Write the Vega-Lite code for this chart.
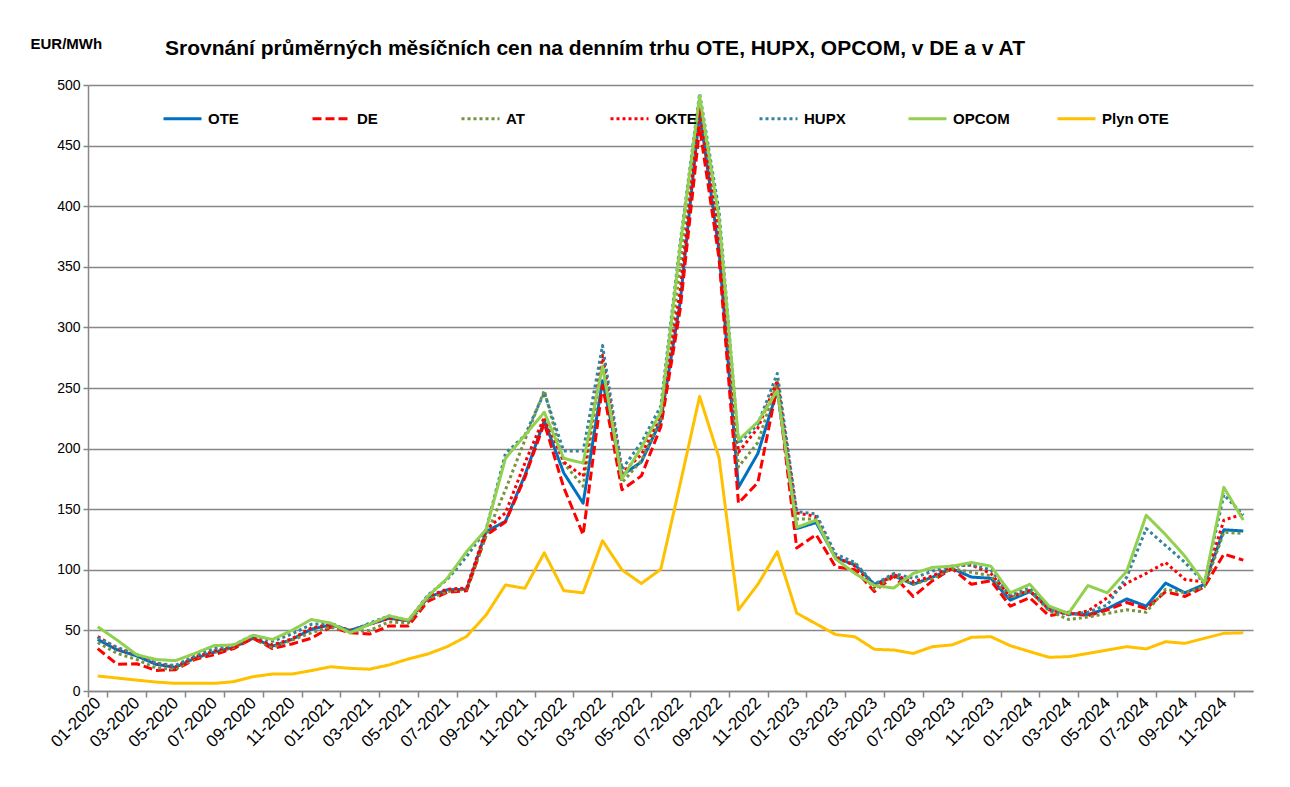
{
"$schema": "https://vega.github.io/schema/vega-lite/v6.json",
"width": 1165,
"height": 606,
"autosize": {"type": "none"},
"padding": {"left": 88, "top": 85, "right": 37, "bottom": 96},
"background": "white",
"config": {"font": "Liberation Sans", "view": {"stroke": null}},
"title": {"text": "Srovnání průměrných měsíčních cen na denním trhu OTE, HUPX, OPCOM, v DE a v AT", "anchor": "start", "frame": "group", "dx": 77, "dy": 45, "offset": 22, "fontSize": 21, "fontWeight": "bold", "color": "black"},
"data": {"values": [
{"m":"01-2020","s":"OTE","v":42.5},{"m":"02-2020","s":"OTE","v":34},{"m":"03-2020","s":"OTE","v":29},{"m":"04-2020","s":"OTE","v":22},{"m":"05-2020","s":"OTE","v":19.5},{"m":"06-2020","s":"OTE","v":27},{"m":"07-2020","s":"OTE","v":32},{"m":"08-2020","s":"OTE","v":36},{"m":"09-2020","s":"OTE","v":43.5},{"m":"10-2020","s":"OTE","v":37},{"m":"11-2020","s":"OTE","v":42.5},{"m":"12-2020","s":"OTE","v":51},
{"m":"01-2021","s":"OTE","v":54.5},{"m":"02-2021","s":"OTE","v":50},{"m":"03-2021","s":"OTE","v":55},{"m":"04-2021","s":"OTE","v":60},{"m":"05-2021","s":"OTE","v":58},{"m":"06-2021","s":"OTE","v":77},{"m":"07-2021","s":"OTE","v":83.5},{"m":"08-2021","s":"OTE","v":84},{"m":"09-2021","s":"OTE","v":131.5},{"m":"10-2021","s":"OTE","v":140},{"m":"11-2021","s":"OTE","v":178},{"m":"12-2021","s":"OTE","v":223},
{"m":"01-2022","s":"OTE","v":180},{"m":"02-2022","s":"OTE","v":155},{"m":"03-2022","s":"OTE","v":256},{"m":"04-2022","s":"OTE","v":178},{"m":"05-2022","s":"OTE","v":189},{"m":"06-2022","s":"OTE","v":223},{"m":"07-2022","s":"OTE","v":321},{"m":"08-2022","s":"OTE","v":478},{"m":"09-2022","s":"OTE","v":363},{"m":"10-2022","s":"OTE","v":168},{"m":"11-2022","s":"OTE","v":196},{"m":"12-2022","s":"OTE","v":248},
{"m":"01-2023","s":"OTE","v":134},{"m":"02-2023","s":"OTE","v":139},{"m":"03-2023","s":"OTE","v":110},{"m":"04-2023","s":"OTE","v":104},{"m":"05-2023","s":"OTE","v":88},{"m":"06-2023","s":"OTE","v":95},{"m":"07-2023","s":"OTE","v":88},{"m":"08-2023","s":"OTE","v":94},{"m":"09-2023","s":"OTE","v":101},{"m":"10-2023","s":"OTE","v":94},{"m":"11-2023","s":"OTE","v":93},{"m":"12-2023","s":"OTE","v":75},
{"m":"01-2024","s":"OTE","v":82},{"m":"02-2024","s":"OTE","v":69},{"m":"03-2024","s":"OTE","v":64},{"m":"04-2024","s":"OTE","v":63},{"m":"05-2024","s":"OTE","v":68},{"m":"06-2024","s":"OTE","v":76},{"m":"07-2024","s":"OTE","v":70},{"m":"08-2024","s":"OTE","v":89},{"m":"09-2024","s":"OTE","v":81},{"m":"10-2024","s":"OTE","v":88},{"m":"11-2024","s":"OTE","v":133},{"m":"12-2024","s":"OTE","v":132},

{"m":"01-2020","s":"DE","v":35},{"m":"02-2020","s":"DE","v":22},{"m":"03-2020","s":"DE","v":22.5},{"m":"04-2020","s":"DE","v":17},{"m":"05-2020","s":"DE","v":17.5},{"m":"06-2020","s":"DE","v":26},{"m":"07-2020","s":"DE","v":30},{"m":"08-2020","s":"DE","v":35},{"m":"09-2020","s":"DE","v":43.5},{"m":"10-2020","s":"DE","v":35},{"m":"11-2020","s":"DE","v":38.8},{"m":"12-2020","s":"DE","v":43.5},
{"m":"01-2021","s":"DE","v":52.8},{"m":"02-2021","s":"DE","v":48},{"m":"03-2021","s":"DE","v":47},{"m":"04-2021","s":"DE","v":53.7},{"m":"05-2021","s":"DE","v":53.7},{"m":"06-2021","s":"DE","v":74},{"m":"07-2021","s":"DE","v":81.4},{"m":"08-2021","s":"DE","v":82.7},{"m":"09-2021","s":"DE","v":128.4},{"m":"10-2021","s":"DE","v":139.5},{"m":"11-2021","s":"DE","v":176},{"m":"12-2021","s":"DE","v":221},
{"m":"01-2022","s":"DE","v":168},{"m":"02-2022","s":"DE","v":129},{"m":"03-2022","s":"DE","v":252},{"m":"04-2022","s":"DE","v":166},{"m":"05-2022","s":"DE","v":177.5},{"m":"06-2022","s":"DE","v":218},{"m":"07-2022","s":"DE","v":315},{"m":"08-2022","s":"DE","v":465},{"m":"09-2022","s":"DE","v":357},{"m":"10-2022","s":"DE","v":155},{"m":"11-2022","s":"DE","v":172},{"m":"12-2022","s":"DE","v":252},
{"m":"01-2023","s":"DE","v":118},{"m":"02-2023","s":"DE","v":129},{"m":"03-2023","s":"DE","v":102.5},{"m":"04-2023","s":"DE","v":100},{"m":"05-2023","s":"DE","v":82},{"m":"06-2023","s":"DE","v":95},{"m":"07-2023","s":"DE","v":78},{"m":"08-2023","s":"DE","v":91},{"m":"09-2023","s":"DE","v":101},{"m":"10-2023","s":"DE","v":88},{"m":"11-2023","s":"DE","v":91},{"m":"12-2023","s":"DE","v":70},
{"m":"01-2024","s":"DE","v":77},{"m":"02-2024","s":"DE","v":62},{"m":"03-2024","s":"DE","v":65},{"m":"04-2024","s":"DE","v":62},{"m":"05-2024","s":"DE","v":67},{"m":"06-2024","s":"DE","v":73},{"m":"07-2024","s":"DE","v":68},{"m":"08-2024","s":"DE","v":82},{"m":"09-2024","s":"DE","v":78},{"m":"10-2024","s":"DE","v":86},{"m":"11-2024","s":"DE","v":113},{"m":"12-2024","s":"DE","v":108},

{"m":"01-2020","s":"AT","v":40},{"m":"02-2020","s":"AT","v":31},{"m":"03-2020","s":"AT","v":26},{"m":"04-2020","s":"AT","v":19},{"m":"05-2020","s":"AT","v":18},{"m":"06-2020","s":"AT","v":27},{"m":"07-2020","s":"AT","v":32},{"m":"08-2020","s":"AT","v":36},{"m":"09-2020","s":"AT","v":44},{"m":"10-2020","s":"AT","v":36},{"m":"11-2020","s":"AT","v":42},{"m":"12-2020","s":"AT","v":48},
{"m":"01-2021","s":"AT","v":53},{"m":"02-2021","s":"AT","v":49},{"m":"03-2021","s":"AT","v":50},{"m":"04-2021","s":"AT","v":57},{"m":"05-2021","s":"AT","v":56},{"m":"06-2021","s":"AT","v":76},{"m":"07-2021","s":"AT","v":82},{"m":"08-2021","s":"AT","v":84},{"m":"09-2021","s":"AT","v":128},{"m":"10-2021","s":"AT","v":166},{"m":"11-2021","s":"AT","v":207},{"m":"12-2021","s":"AT","v":248},
{"m":"01-2022","s":"AT","v":188},{"m":"02-2022","s":"AT","v":169},{"m":"03-2022","s":"AT","v":272},{"m":"04-2022","s":"AT","v":172},{"m":"05-2022","s":"AT","v":190},{"m":"06-2022","s":"AT","v":225},{"m":"07-2022","s":"AT","v":350},{"m":"08-2022","s":"AT","v":485},{"m":"09-2022","s":"AT","v":385},{"m":"10-2022","s":"AT","v":185},{"m":"11-2022","s":"AT","v":205},{"m":"12-2022","s":"AT","v":255},
{"m":"01-2023","s":"AT","v":142},{"m":"02-2023","s":"AT","v":142},{"m":"03-2023","s":"AT","v":109},{"m":"04-2023","s":"AT","v":105},{"m":"05-2023","s":"AT","v":84},{"m":"06-2023","s":"AT","v":96},{"m":"07-2023","s":"AT","v":88},{"m":"08-2023","s":"AT","v":93},{"m":"09-2023","s":"AT","v":101},{"m":"10-2023","s":"AT","v":98},{"m":"11-2023","s":"AT","v":95},{"m":"12-2023","s":"AT","v":77},
{"m":"01-2024","s":"AT","v":83},{"m":"02-2024","s":"AT","v":66},{"m":"03-2024","s":"AT","v":59},{"m":"04-2024","s":"AT","v":61},{"m":"05-2024","s":"AT","v":64},{"m":"06-2024","s":"AT","v":67},{"m":"07-2024","s":"AT","v":65},{"m":"08-2024","s":"AT","v":84},{"m":"09-2024","s":"AT","v":81},{"m":"10-2024","s":"AT","v":86},{"m":"11-2024","s":"AT","v":131},{"m":"12-2024","s":"AT","v":130},

{"m":"01-2020","s":"OKTE","v":45},{"m":"02-2020","s":"OKTE","v":35},{"m":"03-2020","s":"OKTE","v":30},{"m":"04-2020","s":"OKTE","v":23},{"m":"05-2020","s":"OKTE","v":20},{"m":"06-2020","s":"OKTE","v":28},{"m":"07-2020","s":"OKTE","v":33},{"m":"08-2020","s":"OKTE","v":37},{"m":"09-2020","s":"OKTE","v":44},{"m":"10-2020","s":"OKTE","v":38},{"m":"11-2020","s":"OKTE","v":43},{"m":"12-2020","s":"OKTE","v":52},
{"m":"01-2021","s":"OKTE","v":55},{"m":"02-2021","s":"OKTE","v":50},{"m":"03-2021","s":"OKTE","v":55},{"m":"04-2021","s":"OKTE","v":60},{"m":"05-2021","s":"OKTE","v":58},{"m":"06-2021","s":"OKTE","v":78},{"m":"07-2021","s":"OKTE","v":84},{"m":"08-2021","s":"OKTE","v":85},{"m":"09-2021","s":"OKTE","v":133},{"m":"10-2021","s":"OKTE","v":147},{"m":"11-2021","s":"OKTE","v":188},{"m":"12-2021","s":"OKTE","v":226},
{"m":"01-2022","s":"OKTE","v":189},{"m":"02-2022","s":"OKTE","v":177},{"m":"03-2022","s":"OKTE","v":277},{"m":"04-2022","s":"OKTE","v":180},{"m":"05-2022","s":"OKTE","v":195},{"m":"06-2022","s":"OKTE","v":228},{"m":"07-2022","s":"OKTE","v":330},{"m":"08-2022","s":"OKTE","v":480},{"m":"09-2022","s":"OKTE","v":375},{"m":"10-2022","s":"OKTE","v":197},{"m":"11-2022","s":"OKTE","v":217},{"m":"12-2022","s":"OKTE","v":256},
{"m":"01-2023","s":"OKTE","v":147},{"m":"02-2023","s":"OKTE","v":144},{"m":"03-2023","s":"OKTE","v":111},{"m":"04-2023","s":"OKTE","v":103},{"m":"05-2023","s":"OKTE","v":86},{"m":"06-2023","s":"OKTE","v":96},{"m":"07-2023","s":"OKTE","v":90},{"m":"08-2023","s":"OKTE","v":95},{"m":"09-2023","s":"OKTE","v":103},{"m":"10-2023","s":"OKTE","v":104},{"m":"11-2023","s":"OKTE","v":97},{"m":"12-2023","s":"OKTE","v":78},
{"m":"01-2024","s":"OKTE","v":83},{"m":"02-2024","s":"OKTE","v":67},{"m":"03-2024","s":"OKTE","v":63},{"m":"04-2024","s":"OKTE","v":66},{"m":"05-2024","s":"OKTE","v":77},{"m":"06-2024","s":"OKTE","v":89},{"m":"07-2024","s":"OKTE","v":97},{"m":"08-2024","s":"OKTE","v":106},{"m":"09-2024","s":"OKTE","v":92},{"m":"10-2024","s":"OKTE","v":90},{"m":"11-2024","s":"OKTE","v":141},{"m":"12-2024","s":"OKTE","v":146},

{"m":"01-2020","s":"HUPX","v":44},{"m":"02-2020","s":"HUPX","v":36},{"m":"03-2020","s":"HUPX","v":30},{"m":"04-2020","s":"HUPX","v":23},{"m":"05-2020","s":"HUPX","v":21},{"m":"06-2020","s":"HUPX","v":29},{"m":"07-2020","s":"HUPX","v":35},{"m":"08-2020","s":"HUPX","v":38},{"m":"09-2020","s":"HUPX","v":46},{"m":"10-2020","s":"HUPX","v":41},{"m":"11-2020","s":"HUPX","v":47},{"m":"12-2020","s":"HUPX","v":55},
{"m":"01-2021","s":"HUPX","v":56},{"m":"02-2021","s":"HUPX","v":49},{"m":"03-2021","s":"HUPX","v":56},{"m":"04-2021","s":"HUPX","v":62},{"m":"05-2021","s":"HUPX","v":58},{"m":"06-2021","s":"HUPX","v":79},{"m":"07-2021","s":"HUPX","v":92},{"m":"08-2021","s":"HUPX","v":111},{"m":"09-2021","s":"HUPX","v":133},{"m":"10-2021","s":"HUPX","v":196},{"m":"11-2021","s":"HUPX","v":211},{"m":"12-2021","s":"HUPX","v":246},
{"m":"01-2022","s":"HUPX","v":198},{"m":"02-2022","s":"HUPX","v":198},{"m":"03-2022","s":"HUPX","v":285},{"m":"04-2022","s":"HUPX","v":183},{"m":"05-2022","s":"HUPX","v":205},{"m":"06-2022","s":"HUPX","v":235},{"m":"07-2022","s":"HUPX","v":370},{"m":"08-2022","s":"HUPX","v":493},{"m":"09-2022","s":"HUPX","v":396},{"m":"10-2022","s":"HUPX","v":204},{"m":"11-2022","s":"HUPX","v":220},{"m":"12-2022","s":"HUPX","v":262},
{"m":"01-2023","s":"HUPX","v":148},{"m":"02-2023","s":"HUPX","v":146},{"m":"03-2023","s":"HUPX","v":113},{"m":"04-2023","s":"HUPX","v":106},{"m":"05-2023","s":"HUPX","v":88},{"m":"06-2023","s":"HUPX","v":97},{"m":"07-2023","s":"HUPX","v":93},{"m":"08-2023","s":"HUPX","v":99},{"m":"09-2023","s":"HUPX","v":103},{"m":"10-2023","s":"HUPX","v":104},{"m":"11-2023","s":"HUPX","v":100},{"m":"12-2023","s":"HUPX","v":79},
{"m":"01-2024","s":"HUPX","v":85},{"m":"02-2024","s":"HUPX","v":67},{"m":"03-2024","s":"HUPX","v":63},{"m":"04-2024","s":"HUPX","v":65},{"m":"05-2024","s":"HUPX","v":71},{"m":"06-2024","s":"HUPX","v":94},{"m":"07-2024","s":"HUPX","v":134},{"m":"08-2024","s":"HUPX","v":120},{"m":"09-2024","s":"HUPX","v":106},{"m":"10-2024","s":"HUPX","v":89},{"m":"11-2024","s":"HUPX","v":162},{"m":"12-2024","s":"HUPX","v":145},

{"m":"01-2020","s":"OPCOM","v":53},{"m":"02-2020","s":"OPCOM","v":42},{"m":"03-2020","s":"OPCOM","v":30},{"m":"04-2020","s":"OPCOM","v":26},{"m":"05-2020","s":"OPCOM","v":25},{"m":"06-2020","s":"OPCOM","v":31},{"m":"07-2020","s":"OPCOM","v":37.5},{"m":"08-2020","s":"OPCOM","v":38},{"m":"09-2020","s":"OPCOM","v":46},{"m":"10-2020","s":"OPCOM","v":42.5},{"m":"11-2020","s":"OPCOM","v":50},{"m":"12-2020","s":"OPCOM","v":59},
{"m":"01-2021","s":"OPCOM","v":56},{"m":"02-2021","s":"OPCOM","v":48},{"m":"03-2021","s":"OPCOM","v":55},{"m":"04-2021","s":"OPCOM","v":62},{"m":"05-2021","s":"OPCOM","v":58.5},{"m":"06-2021","s":"OPCOM","v":78},{"m":"07-2021","s":"OPCOM","v":93},{"m":"08-2021","s":"OPCOM","v":115},{"m":"09-2021","s":"OPCOM","v":133},{"m":"10-2021","s":"OPCOM","v":192},{"m":"11-2021","s":"OPCOM","v":211},{"m":"12-2021","s":"OPCOM","v":230},
{"m":"01-2022","s":"OPCOM","v":192},{"m":"02-2022","s":"OPCOM","v":188},{"m":"03-2022","s":"OPCOM","v":268},{"m":"04-2022","s":"OPCOM","v":175},{"m":"05-2022","s":"OPCOM","v":201},{"m":"06-2022","s":"OPCOM","v":230},{"m":"07-2022","s":"OPCOM","v":367},{"m":"08-2022","s":"OPCOM","v":491},{"m":"09-2022","s":"OPCOM","v":390},{"m":"10-2022","s":"OPCOM","v":207},{"m":"11-2022","s":"OPCOM","v":222},{"m":"12-2022","s":"OPCOM","v":248},
{"m":"01-2023","s":"OPCOM","v":135},{"m":"02-2023","s":"OPCOM","v":141},{"m":"03-2023","s":"OPCOM","v":109},{"m":"04-2023","s":"OPCOM","v":97},{"m":"05-2023","s":"OPCOM","v":87},{"m":"06-2023","s":"OPCOM","v":85},{"m":"07-2023","s":"OPCOM","v":97},{"m":"08-2023","s":"OPCOM","v":102},{"m":"09-2023","s":"OPCOM","v":103},{"m":"10-2023","s":"OPCOM","v":106},{"m":"11-2023","s":"OPCOM","v":103},{"m":"12-2023","s":"OPCOM","v":81},
{"m":"01-2024","s":"OPCOM","v":88},{"m":"02-2024","s":"OPCOM","v":70},{"m":"03-2024","s":"OPCOM","v":64},{"m":"04-2024","s":"OPCOM","v":87},{"m":"05-2024","s":"OPCOM","v":81},{"m":"06-2024","s":"OPCOM","v":99},{"m":"07-2024","s":"OPCOM","v":145},{"m":"08-2024","s":"OPCOM","v":129},{"m":"09-2024","s":"OPCOM","v":111},{"m":"10-2024","s":"OPCOM","v":89},{"m":"11-2024","s":"OPCOM","v":168},{"m":"12-2024","s":"OPCOM","v":141},

{"m":"01-2020","s":"Plyn OTE","v":12.4},{"m":"02-2020","s":"Plyn OTE","v":10.7},{"m":"03-2020","s":"Plyn OTE","v":9},{"m":"04-2020","s":"Plyn OTE","v":7.4},{"m":"05-2020","s":"Plyn OTE","v":6.3},{"m":"06-2020","s":"Plyn OTE","v":6.3},{"m":"07-2020","s":"Plyn OTE","v":6.3},{"m":"08-2020","s":"Plyn OTE","v":7.7},{"m":"09-2020","s":"Plyn OTE","v":11.8},{"m":"10-2020","s":"Plyn OTE","v":14},{"m":"11-2020","s":"Plyn OTE","v":14},{"m":"12-2020","s":"Plyn OTE","v":16.8},
{"m":"01-2021","s":"Plyn OTE","v":20},{"m":"02-2021","s":"Plyn OTE","v":18.7},{"m":"03-2021","s":"Plyn OTE","v":18},{"m":"04-2021","s":"Plyn OTE","v":21.5},{"m":"05-2021","s":"Plyn OTE","v":26.4},{"m":"06-2021","s":"Plyn OTE","v":30.5},{"m":"07-2021","s":"Plyn OTE","v":36.6},{"m":"08-2021","s":"Plyn OTE","v":45},{"m":"09-2021","s":"Plyn OTE","v":62.7},{"m":"10-2021","s":"Plyn OTE","v":87.5},{"m":"11-2021","s":"Plyn OTE","v":84.7},{"m":"12-2021","s":"Plyn OTE","v":114},
{"m":"01-2022","s":"Plyn OTE","v":82.8},{"m":"02-2022","s":"Plyn OTE","v":81},{"m":"03-2022","s":"Plyn OTE","v":124},{"m":"04-2022","s":"Plyn OTE","v":100},{"m":"05-2022","s":"Plyn OTE","v":88.7},{"m":"06-2022","s":"Plyn OTE","v":100.5},{"m":"07-2022","s":"Plyn OTE","v":171},{"m":"08-2022","s":"Plyn OTE","v":243},{"m":"09-2022","s":"Plyn OTE","v":192.4},{"m":"10-2022","s":"Plyn OTE","v":66.9},{"m":"11-2022","s":"Plyn OTE","v":88},{"m":"12-2022","s":"Plyn OTE","v":115},
{"m":"01-2023","s":"Plyn OTE","v":64.3},{"m":"02-2023","s":"Plyn OTE","v":55.4},{"m":"03-2023","s":"Plyn OTE","v":46.6},{"m":"04-2023","s":"Plyn OTE","v":44.7},{"m":"05-2023","s":"Plyn OTE","v":34.4},{"m":"06-2023","s":"Plyn OTE","v":33.8},{"m":"07-2023","s":"Plyn OTE","v":31},{"m":"08-2023","s":"Plyn OTE","v":36.6},{"m":"09-2023","s":"Plyn OTE","v":38},{"m":"10-2023","s":"Plyn OTE","v":44.3},{"m":"11-2023","s":"Plyn OTE","v":44.8},{"m":"12-2023","s":"Plyn OTE","v":37.4},
{"m":"01-2024","s":"Plyn OTE","v":32.5},{"m":"02-2024","s":"Plyn OTE","v":27.8},{"m":"03-2024","s":"Plyn OTE","v":28.3},{"m":"04-2024","s":"Plyn OTE","v":31},{"m":"05-2024","s":"Plyn OTE","v":33.8},{"m":"06-2024","s":"Plyn OTE","v":36.6},{"m":"07-2024","s":"Plyn OTE","v":34.7},{"m":"08-2024","s":"Plyn OTE","v":40.7},{"m":"09-2024","s":"Plyn OTE","v":39.3},{"m":"10-2024","s":"Plyn OTE","v":43.5},{"m":"11-2024","s":"Plyn OTE","v":47.6},{"m":"12-2024","s":"Plyn OTE","v":48}
]},
"mark": {"type": "line", "strokeWidth": 3, "strokeJoin": "round"},
"encoding": {
  "x": {"field": "m", "type": "ordinal", "sort": null,
    "scale": {"type": "band", "paddingInner": 0, "paddingOuter": 0},
    "axis": {"title": null, "values": ["01-2020","03-2020","05-2020","07-2020","09-2020","11-2020","01-2021","03-2021","05-2021","07-2021","09-2021","11-2021","01-2022","03-2022","05-2022","07-2022","09-2022","11-2022","01-2023","03-2023","05-2023","07-2023","09-2023","11-2023","01-2024","03-2024","05-2024","07-2024","09-2024","11-2024"],
      "labelAngle": -45, "labelAlign": "right", "labelBaseline": "middle", "tickBand": "extent",
      "domainColor": "#878787", "domainWidth": 1.5, "tickColor": "#878787", "tickWidth": 1.5, "tickSize": 6,
      "labelFontSize": 17, "labelColor": "black", "labelPadding": 3, "grid": false}},
  "y": {"field": "v", "type": "quantitative", "scale": {"domain": [0, 500], "nice": false},
    "axis": {"title": "EUR/MWh", "titleAngle": 0, "titleX": -58, "titleY": -42, "titleAlign": "left", "titleBaseline": "middle", "titleFontSize": 15, "titleFontWeight": "bold", "titleColor": "black",
      "values": [0,50,100,150,200,250,300,350,400,450,500],
      "grid": true, "gridColor": "#878787", "gridWidth": 1.5,
      "domainColor": "#878787", "domainWidth": 1.5, "tickColor": "#878787", "tickWidth": 1.5, "tickSize": 5,
      "labelFontSize": 14, "labelColor": "black", "labelPadding": 3}},
  "color": {"field": "s", "type": "nominal",
    "scale": {"domain": ["OTE","DE","AT","OKTE","HUPX","OPCOM","Plyn OTE"], "range": ["#0070C0","#FF0000","#77933C","#FF0000","#31859C","#92D050","#FFC000"]},
    "legend": {"title": null, "orient": "none", "direction": "horizontal", "legendX": 74, "legendY": 13, "columns": 7, "gridAlign": "all", "symbolType": "stroke", "symbolSize": 1444, "symbolStrokeWidth": 3, "labelFontSize": 15, "labelFontWeight": "bold", "labelColor": "black", "columnPadding": 31, "labelOffset": 5}},
  "strokeDash": {"field": "s", "type": "nominal",
    "scale": {"domain": ["OTE","DE","AT","OKTE","HUPX","OPCOM","Plyn OTE"], "range": [[1,0],[9,4],[3,3],[3,3],[3,3],[1,0],[1,0]]},
    "legend": {"title": null, "orient": "none", "direction": "horizontal", "legendX": 74, "legendY": 13, "columns": 7, "gridAlign": "all", "symbolType": "stroke", "symbolSize": 1444, "symbolStrokeWidth": 3, "labelFontSize": 15, "labelFontWeight": "bold", "labelColor": "black", "columnPadding": 31, "labelOffset": 5}}
}
}
